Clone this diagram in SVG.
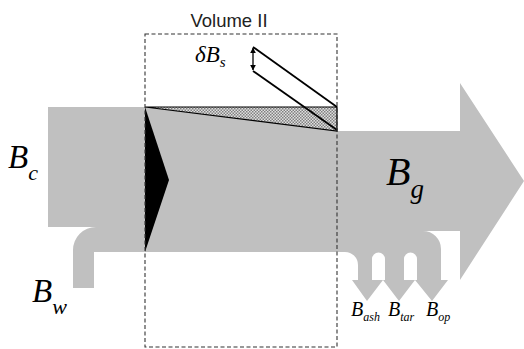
<svg xmlns="http://www.w3.org/2000/svg" width="524" height="349" viewBox="0 0 524 349">
<style>
.m{font-family:"Liberation Serif","Times New Roman",serif;font-style:italic;fill:#000}
.ln{stroke:#000;stroke-width:1.8;fill:none}
</style>
<defs>
<pattern id="hatch" width="3" height="3" patternUnits="userSpaceOnUse">
<rect width="3" height="3" fill="#e0e0e0"/>
<rect width="1.5" height="1.5" fill="#808080"/>
<rect x="1.5" y="1.5" width="1.5" height="1.5" fill="#808080"/>
</pattern>
<marker id="ah" viewBox="0 0 10 10" refX="9" refY="5" markerWidth="6" markerHeight="6" orient="auto-start-reverse" markerUnits="userSpaceOnUse">
<path d="M0,0 L10,5 L0,10 Z" fill="#000"/>
</marker>
</defs>
<rect width="524" height="349" fill="#fff"/>
<g id="flow">
<path fill="#c0c0c0" d="M48,107 H145 L337,131 H460 V83 L524,181 L460,280 V231 H423 A18,18 0 0 1 441,249 V280 H448 L432,301 L415,280 H417 V259 A6.5,6.5 0 0 0 404,259 V280 H415 L399,301 L383,280 H385 V259 A6.5,6.5 0 0 0 372,259 V280 H383 L367,301 L352,280 H358 V265 A13,13 0 0 0 345,252 H94 V288 H73 V250 A23,23 0 0 1 96,227 H48 Z"/>
</g>
<g id="front">
<polygon points="145,107 169,180 145,252" fill="#000"/>
</g>
<g id="deposit">
<polygon points="145,107 337,107 337,131" fill="url(#hatch)" stroke="#000" stroke-width="1.2" stroke-linejoin="miter"/>
</g>
<g id="connectors">
<line class="ln" x1="253" y1="47" x2="337" y2="107"/>
<line class="ln" x1="253" y1="71" x2="337" y2="130"/>
<line x1="253" y1="48" x2="253" y2="70" stroke="#000" stroke-width="1.3" marker-start="url(#ah)" marker-end="url(#ah)"/>
</g>
<g id="volume">
<rect x="145" y="34" width="192" height="313" fill="none" stroke="#333" stroke-width="1.1" stroke-dasharray="4,2.5"/>
<text x="229" y="27" font-family="Liberation Sans, Arial, sans-serif" font-size="18.5" text-anchor="middle" fill="#222">Volume II</text>
</g>
<g id="labels">
<text class="m" x="195" y="62" font-size="23">δB<tspan font-size="15" dy="5">s</tspan></text>
<text class="m" x="8" y="168" font-size="33">B<tspan font-size="22" dy="12">c</tspan></text>
<text class="m" x="32" y="302" font-size="33">B<tspan font-size="22" dy="12">w</tspan></text>
<text class="m" x="386" y="185" font-size="40">B<tspan font-size="27" dy="13">g</tspan></text>
<text class="m" x="351" y="316" font-size="20">B<tspan font-size="12" dy="5">ash</tspan></text>
<text class="m" x="388" y="316" font-size="20">B<tspan font-size="12" dy="5">tar</tspan></text>
<text class="m" x="426" y="316" font-size="20">B<tspan font-size="12" dy="5">op</tspan></text>
</g>
</svg>
